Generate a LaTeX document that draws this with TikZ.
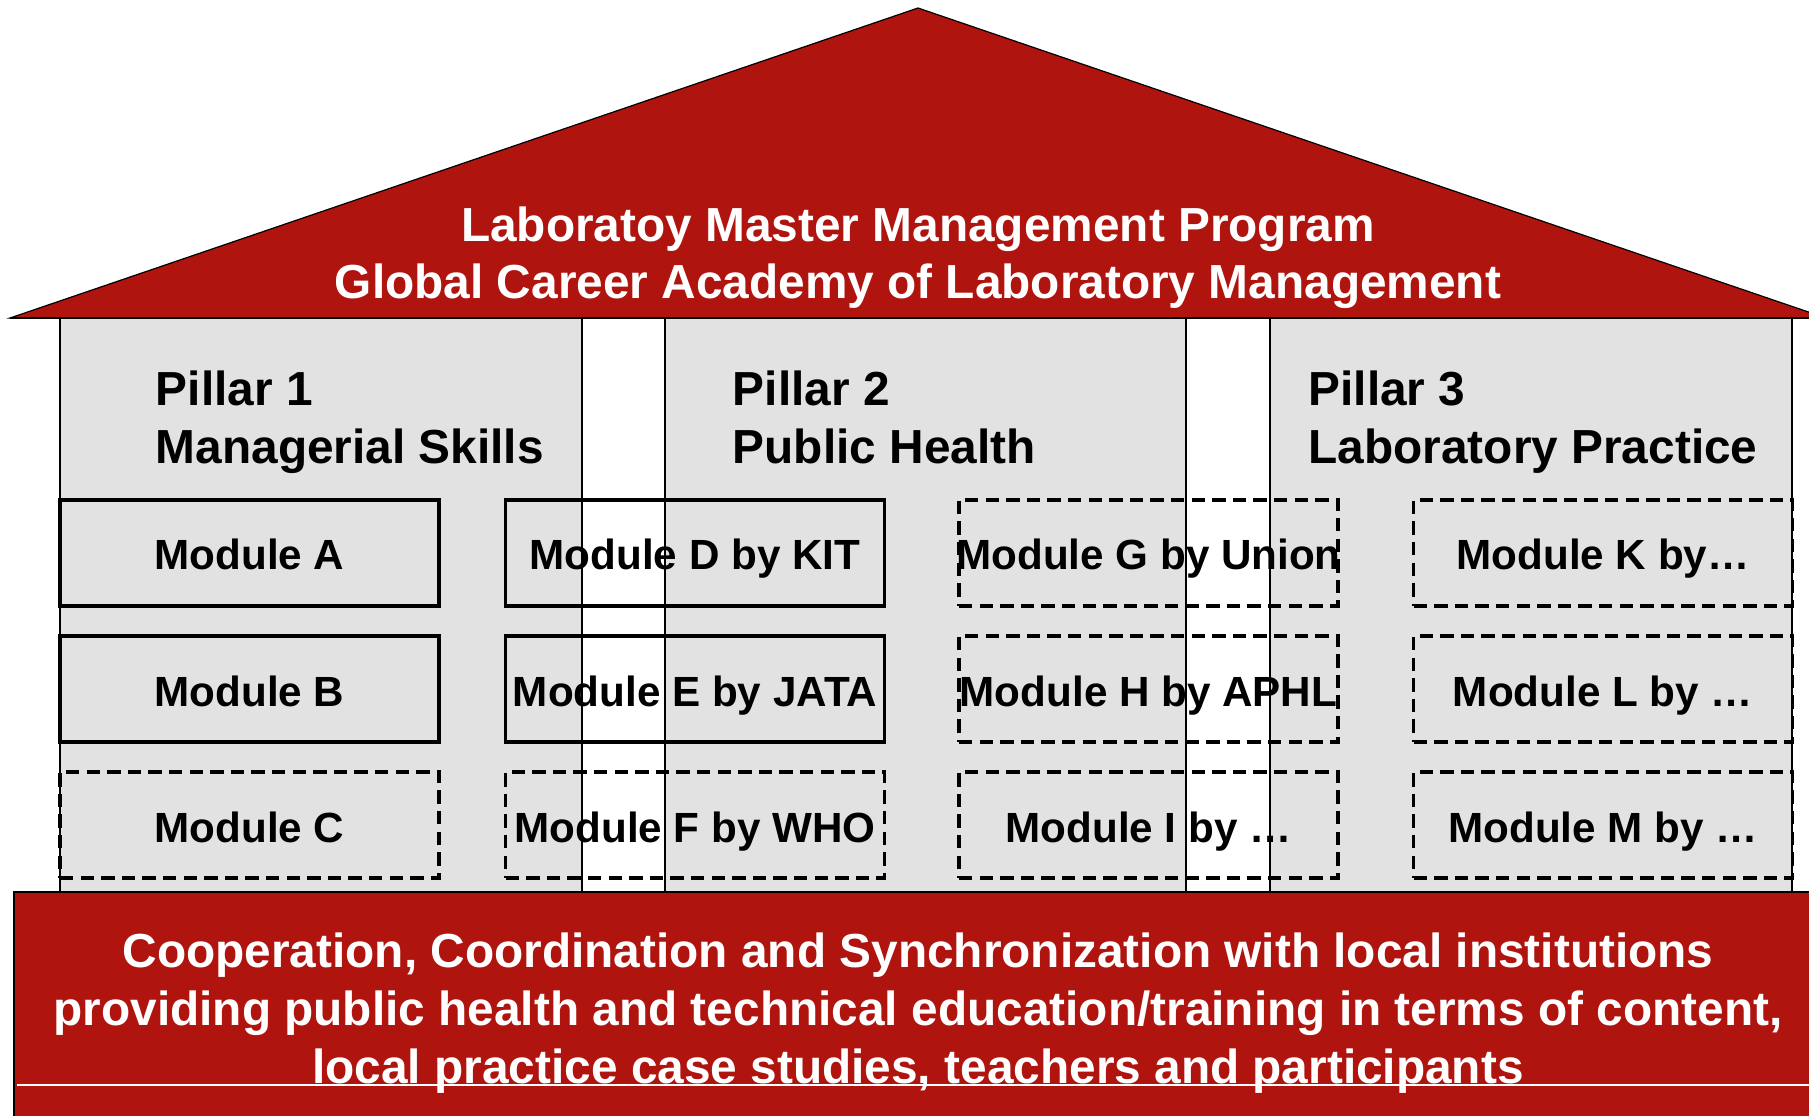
\documentclass[tikz,border=0pt]{standalone}
\usepackage{fontspec}
\setmainfont{Liberation Sans}
\definecolor{roofred}{RGB}{175,20,14}
\definecolor{pillargray}{RGB}{226,226,226}
\begin{document}
\begin{tikzpicture}[x=0.5pt,y=-0.5pt,
  every node/.style={inner sep=0pt},
  bigtext/.style={font=\fontsize{23.9}{28.8}\selectfont\bfseries},
  rooftext/.style={bigtext, align=center, text=white},
  pillartitle/.style={bigtext, align=left, anchor=west},
  pillarfill/.style={fill=pillargray},
  pillaredge/.style={draw=black, line width=1pt},
  modbox/.style={draw=black, line width=1.9pt,
    minimum width=189.5pt, minimum height=53pt,
    font=\fontsize{21.1}{25}\selectfont\bfseries,
    text height=17.3pt, text depth=0pt,
    execute at begin node={\hbox to 0pt\bgroup\hss},
    execute at end node={\hss\egroup}},
  solidbox/.style={modbox},
  dashbox/.style={modbox, dash pattern=on 6.7pt off 3.6pt},
]
\useasboundingbox (0,0) rectangle (1809,1115);

% pillar bodies
\path[pillarfill] (60,318) rectangle (581.5,892);
\path[pillarfill] (664.5,318) rectangle (1186,892);
\path[pillarfill] (1270,318) rectangle (1792,892);

% roof
\filldraw[fill=roofred, draw=black, line width=0.6pt]
  (10,318) -- (918,8) -- (1826,318) -- cycle;
\node[rooftext] (title) at (918,258.5)
  {\strut Laboratoy Master Management Program\\
   Global Career Academy of Laboratory Management\strut};

% pillar titles
\node[pillartitle] (p1) at (155.5,423)
  {\strut Pillar 1\\Managerial Skills\strut};
\node[pillartitle] (p2) at (732.5,423)
  {\strut Pillar 2\\Public Health\strut};
\node[pillartitle] (p3) at (1308.2,423)
  {\strut Pillar 3\\Laboratory Practice\strut};

% modules
\node[solidbox] (mA) at (249.5,552.6) {Module A};
\node[solidbox] (mB) at (249.5,688.7) {Module B};
\node[dashbox]  (mC) at (249.5,824.9) {Module C};
\node[solidbox] (mD) at (695,552.6) {Module D by KIT};
\node[solidbox] (mE) at (695,688.7) {Module E by JATA};
\node[dashbox]  (mF) at (695,824.9) {Module F by WHO};
\node[dashbox]  (mG) at (1148.5,552.6) {Module G by Union};
\node[dashbox]  (mH) at (1148.5,688.7) {Module H by APHL};
\node[dashbox]  (mI) at (1148.5,824.9) {Module I by …};
\node[dashbox]  (mK) at (1603,552.6) {Module K by…};
\node[dashbox]  (mL) at (1603,688.7) {Module L by …};
\node[dashbox]  (mM) at (1603,824.9) {Module M by …};

% pillar outlines
\path[pillaredge] (60,318) rectangle (581.5,892);
\path[pillaredge] (664.5,318) rectangle (1186,892);
\path[pillaredge] (1270,318) rectangle (1792,892);
\draw[line width=1pt] (10,318) -- (1809,318);

% foundation
\filldraw[fill=roofred, draw=black, line width=0.6pt]
  (14,892) rectangle (1830,1130);
\node[rooftext] (base) at (918,1013.9)
  {\strut Cooperation, Coordination and Synchronization with local institutions\\
   providing public health and technical education/training in terms of content,\\
   local practice case studies, teachers and participants\strut};
\draw[white, line width=0.8pt] (17,1085) -- (1809,1085);
\end{tikzpicture}
\end{document}
